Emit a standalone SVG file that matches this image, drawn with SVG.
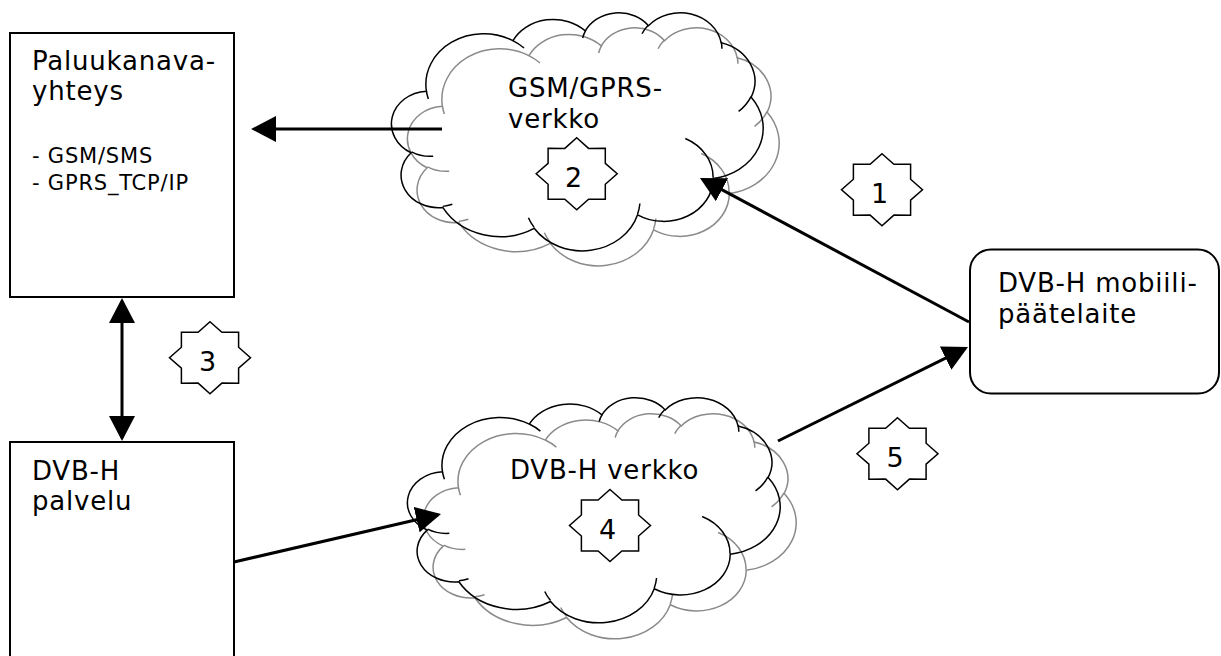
<svg xmlns="http://www.w3.org/2000/svg" xmlns:xlink="http://www.w3.org/1999/xlink" width="1221" height="656" viewBox="0 0 1221 656">
<style>
  .box { fill: #fff; stroke: #000; stroke-width: 2; }
  .cl-k { fill: none; stroke: #000; stroke-width: 1.5; }
  .cl-g { fill: none; stroke: #8a8a8a; stroke-width: 1.5; }
  .star { fill: #fff; stroke: #000; stroke-width: 1.5; }
  .conn { fill: none; stroke: #000; stroke-width: 3; }
  .t { font-family: Verdana, "DejaVu Sans", sans-serif; font-size: 26px; letter-spacing: 0.8px; fill: #000; }
  .ts { font-family: Verdana, "DejaVu Sans", sans-serif; font-size: 21px; letter-spacing: 0.8px; fill: #000; }
  .n { font-family: Verdana, "DejaVu Sans", sans-serif; font-size: 27px; fill: #000; text-anchor: middle; }
</style>
<defs>
  <marker id="ah" viewBox="0 0 25 26" refX="22" refY="13" markerWidth="25" markerHeight="26" markerUnits="userSpaceOnUse" orient="auto-start-reverse">
    <path d="M0,0 L25,13 L0,26 Z" fill="#000"/>
  </marker>
  <path id="cloudOut" vector-effect="non-scaling-stroke" d="M3900 14370 A6753 9190 0 0 1 14005 5202 A5333 7267 0 0 1 22456 3431 A4365 5945 0 0 1 29834 2480 A4857 6595 0 0 1 38319 5574 A5333 7273 0 0 1 41820 15457 A6775 9220 0 0 1 37405 30200 A5785 7867 0 0 1 28557 36811 A6752 9215 0 0 1 16484 39266 A7720 10543 0 0 1 5810 35474 A4360 5918 0 0 1 2119 25552 A4345 5945 0 0 1 3900 14370 Z"/>
  <path id="cloudIn" vector-effect="non-scaling-stroke" d="M4693 26177 A4345 5945 0 0 1 2160 25380 M6928 34899 A4360 5918 0 0 1 5820 35281 M16478 39090 A6752 9215 0 0 1 15808 37345 M28827 34751 A6752 9215 0 0 1 28560 36660 M34129 22954 A5785 7867 0 0 1 37381 30090 M41798 15354 A5333 7273 0 0 1 40350 18031 M38324 5426 A4857 6595 0 0 1 38400 6690 M29078 3952 A4857 6595 0 0 1 29819 2341 M22141 4720 A4365 5945 0 0 1 22500 3330 M14000 5192 A6753 9190 0 0 1 15300 6541 M4127 15789 A6753 9190 0 0 1 3900 14371"/>
  <polygon id="star8" points="0,-36 11.9,-25.4 28.6,-25.5 28.6,-10.5 40.5,0 28.6,10.5 28.6,25.5 11.9,25.4 0,36 -11.9,25.4 -28.6,25.5 -28.6,10.5 -40.5,0 -28.6,-10.5 -28.6,-25.5 -11.9,-25.4"/>
</defs>
<rect width="1221" height="656" fill="#fff"/>

<g id="cloud-gsm">
  <g transform="translate(409,27) scale(0.0085648,0.0055093)">
    <use xlink:href="#cloudOut" class="cl-g"/>
    <use xlink:href="#cloudIn" class="cl-g"/>
  </g>
  <g transform="translate(393,12) scale(0.0085648,0.0055093)">
    <use xlink:href="#cloudOut" class="cl-k"/>
    <use xlink:href="#cloudIn" class="cl-k"/>
  </g>
  <text class="t" x="508" y="97">GSM/GPRS-</text>
  <text class="t" x="508" y="128">verkko</text>
</g>

<g id="cloud-dvb">
  <g transform="translate(425,413) scale(0.008588,0.0052083)">
    <use xlink:href="#cloudOut" class="cl-g"/>
    <use xlink:href="#cloudIn" class="cl-g"/>
  </g>
  <g transform="translate(409,397) scale(0.008588,0.0052083)">
    <use xlink:href="#cloudOut" class="cl-k"/>
    <use xlink:href="#cloudIn" class="cl-k"/>
  </g>
  <text class="t" x="510" y="478.5">DVB-H verkko</text>
</g>

<g id="box-paluukanava">
  <rect class="box" x="10" y="33" width="224" height="264"/>
  <text class="t" x="32" y="69.5">Paluukanava-</text>
  <text class="t" x="32" y="100">yhteys</text>
  <text class="ts" x="32" y="162.5">- GSM/SMS</text>
  <text class="ts" x="32" y="189.5">- GPRS_TCP/IP</text>
</g>

<g id="box-palvelu">
  <rect class="box" x="10" y="442" width="224" height="230"/>
  <text class="t" x="32" y="479.5">DVB-H</text>
  <text class="t" x="32" y="510">palvelu</text>
</g>

<g id="box-paatelaite">
  <rect class="box" x="970" y="249.5" width="249" height="144" rx="21" ry="21"/>
  <text class="t" x="998" y="292">DVB-H mobiili-</text>
  <text class="t" x="998" y="323">päätelaite</text>
</g>

<g id="connectors">
  <line class="conn" x1="442" y1="129" x2="254" y2="129" marker-end="url(#ah)"/>
  <line class="conn" x1="969" y1="322" x2="702.6" y2="179.4" marker-end="url(#ah)"/>
  <line class="conn" x1="778" y1="441" x2="965.3" y2="348.3" marker-end="url(#ah)"/>
  <line class="conn" x1="234" y1="562" x2="438.1" y2="514.7" marker-end="url(#ah)"/>
  <line class="conn" x1="122" y1="301" x2="122" y2="438" marker-start="url(#ah)" marker-end="url(#ah)"/>
</g>

<g id="star-1">
  <use xlink:href="#star8" class="star" transform="translate(882,189.7)"/>
  <text class="n" x="879.5" y="203">1</text>
</g>
<g id="star-2">
  <use xlink:href="#star8" class="star" transform="translate(576.7,173.8)"/>
  <text class="n" x="573.5" y="187">2</text>
</g>
<g id="star-3">
  <use xlink:href="#star8" class="star" transform="translate(210,357.7)"/>
  <text class="n" x="207.5" y="371">3</text>
</g>
<g id="star-4">
  <use xlink:href="#star8" class="star" transform="translate(610,525.5)"/>
  <text class="n" x="607.5" y="539">4</text>
</g>
<g id="star-5">
  <use xlink:href="#star8" class="star" transform="translate(897.5,453.7)"/>
  <text class="n" x="895" y="467">5</text>
</g>
</svg>
